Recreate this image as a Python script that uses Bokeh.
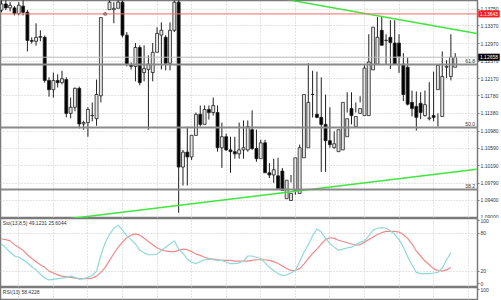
from bokeh.plotting import figure
from bokeh.layouts import column
from bokeh.models import (Range1d, FixedTicker, NumeralTickFormatter, Span, Label,
                          ColumnDataSource)
from bokeh.embed import file_html
from bokeh.resources import INLINE
from bokeh.core.properties import value

# ---------------- data ----------------
opens = [1.1373, 1.1387, 1.1378, 1.1378, 1.1365, 1.1382, 1.1368, 1.1304, 1.1302, 1.1311, 1.1311,
         1.1213, 1.1192, 1.1213, 1.1208, 1.1215, 1.1138, 1.1152, 1.1195, 1.1114, 1.1117,
         1.1133, 1.1126, 1.1178, 1.1362, 1.1374, 1.1374, 1.1377, 1.1391, 1.1316, 1.1249,
         1.1245, 1.1288, 1.1231, 1.1238, 1.1231, 1.1277, 1.1316, 1.1311, 1.1252, 1.1327,
         1.1391, 1.1016, 1.1050, 1.1039, 1.1088, 1.1136, 1.1113, 1.1147, 1.1140, 1.1140,
         1.1060, 1.1085, 1.1055, 1.1051, 1.1046, 1.1055, 1.1055, 1.1101, 1.1058, 1.1035,
         1.1071, 1.1003, 1.0998, 1.0996, 1.1007, 1.0944, 1.0940, 1.0963, 1.0956, 1.1037,
         1.1060, 1.1181, 1.1136, 1.1129, 1.1113, 1.1076, 1.1060, 1.1051, 1.1055, 1.1085,
         1.1149, 1.1108, 1.1138, 1.1133, 1.1133, 1.1237, 1.1250, 1.1327, 1.1304, 1.1311,
         1.1298, 1.1298, 1.1250, 1.1243, 1.1163, 1.1154, 1.1161, 1.1133, 1.1126, 1.1133,
         1.1192, 1.1131, 1.1243, 1.1222, 1.1243]
highs = [1.1416, 1.1407, 1.1391, 1.1382, 1.1391, 1.1402, 1.1373, 1.1311, 1.1343, 1.1327, 1.1315,
         1.1220, 1.1231, 1.1227, 1.1235, 1.1220, 1.1174, 1.1197, 1.1199, 1.1121, 1.1152,
         1.1163, 1.1215, 1.1356, 1.1368, 1.1398, 1.1391, 1.1402, 1.1398, 1.1323, 1.1254,
         1.1298, 1.1293, 1.1293, 1.1270, 1.1298, 1.1334, 1.1345, 1.1316, 1.1345, 1.1402,
         1.1402, 1.1055, 1.1108, 1.1085, 1.1140, 1.1156, 1.1156, 1.1156, 1.1174, 1.1156,
         1.1117, 1.1092, 1.1085, 1.1085, 1.1117, 1.1122, 1.1122, 1.1145, 1.1101, 1.1078,
         1.1078, 1.1025, 1.1035, 1.1037, 1.1014, 1.0971, 1.0998, 1.0996, 1.1067, 1.1101,
         1.1252, 1.1235, 1.1233, 1.1220, 1.1181, 1.1152, 1.1097, 1.1078, 1.1090, 1.1186,
         1.1186, 1.1163, 1.1177, 1.1190, 1.1318, 1.1295, 1.1357, 1.1357, 1.1318, 1.1350,
         1.1350, 1.1318, 1.1275, 1.1265, 1.1190, 1.1188, 1.1186, 1.1190, 1.1209, 1.1233,
         1.1138, 1.1279, 1.1259, 1.1318, 1.1275]
lows = [1.1368, 1.1373, 1.1370, 1.1361, 1.1361, 1.1361, 1.1279, 1.1297, 1.1292, 1.1302, 1.1208,
        1.1176, 1.1174, 1.1197, 1.1204, 1.1129, 1.1127, 1.1143, 1.1104, 1.1101, 1.1085,
        1.1120, 1.1110, 1.1163, 1.1366, 1.1389, 1.1343, 1.1384, 1.1311, 1.1245, 1.1238,
        1.1211, 1.1202, 1.1211, 1.1101, 1.1211, 1.1311, 1.1238, 1.1236, 1.1236, 1.1323,
        1.0912, 1.0974, 1.0974, 1.1032, 1.1097, 1.1108, 1.1136, 1.1124, 1.1133, 1.1051,
        1.1014, 1.1053, 1.1003, 1.1035, 1.1035, 1.1035, 1.1051, 1.1055, 1.1028, 1.1051,
        1.1007, 1.0991, 1.0980, 1.0974, 1.0968, 1.0956, 1.0981, 1.0953, 1.1041, 1.1060,
        1.1154, 1.1129, 1.1127, 1.1005, 1.1005, 1.1060, 1.1058, 1.1060, 1.1152, 1.1140,
        1.1113, 1.1140, 1.1163, 1.1250, 1.1231, 1.1293, 1.1304, 1.1293, 1.1250, 1.1239,
        1.1250, 1.1230, 1.1166, 1.1156, 1.1131, 1.1099, 1.1125, 1.1131, 1.1122, 1.1120,
        1.1108, 1.1209, 1.1218, 1.1213, 1.1259]
closes = [1.1387, 1.1378, 1.1384, 1.1365, 1.1384, 1.1368, 1.1304, 1.1302, 1.1311, 1.1313, 1.1213,
          1.1192, 1.1213, 1.1208, 1.1217, 1.1138, 1.1152, 1.1195, 1.1114, 1.1117, 1.1147,
          1.1133, 1.1181, 1.1356, 1.1366, 1.1391, 1.1377, 1.1391, 1.1316, 1.1249, 1.1245,
          1.1288, 1.1208, 1.1240, 1.1250, 1.1277, 1.1320, 1.1327, 1.1252, 1.1327, 1.1391,
          1.1016, 1.1050, 1.1039, 1.1088, 1.1136, 1.1113, 1.1147, 1.1140, 1.1156, 1.1060,
          1.1085, 1.1055, 1.1051, 1.1046, 1.1055, 1.1060, 1.1108, 1.1058, 1.1035, 1.1071,
          1.1003, 1.0998, 1.1010, 1.0967, 1.0963, 1.0986, 1.0956, 1.1037, 1.1060, 1.1181,
          1.1163, 1.1181, 1.1129, 1.1113, 1.1076, 1.1067, 1.1069, 1.1101, 1.1163, 1.1126,
          1.1133, 1.1131, 1.1149, 1.1241, 1.1255, 1.1334, 1.1311, 1.1293, 1.1304, 1.1299,
          1.1250, 1.1268, 1.1181, 1.1159, 1.1149, 1.1129, 1.1140, 1.1158, 1.1128, 1.1129,
          1.1247, 1.1222, 1.1245, 1.1266, 1.12658]

stoch_main = [63, 57, 50, 44, 42, 38, 33, 27, 22, 15, 9, 6, 7, 8, 9, 10, 12, 10, 7, 8, 10,
              13, 20, 45, 65, 78, 88, 93, 85, 76, 70, 63, 53, 49, 46, 46, 47, 53, 58, 63, 68,
              55, 48, 39, 34, 32, 35, 38, 39, 38, 37, 37, 34, 32, 32, 33, 36, 44, 44, 42, 40,
              33, 26, 21, 16, 13, 14, 17, 21, 35, 50, 62, 76, 87, 82, 72, 64, 58, 53, 55, 57,
              58, 62, 66, 68, 76, 85, 88, 89, 88, 84, 78, 70, 58, 43, 30, 18, 16, 16, 16, 17,
              18, 25, 38, 49.1231]
stoch_signal = [71, 70, 68, 62, 58, 53, 46, 40, 35, 30, 26, 20, 17, 14, 12, 11, 10, 9, 8, 8, 8,
                9, 12, 18, 26, 37, 48, 58, 66, 73, 77, 79, 77, 72, 67, 62, 57, 54, 52, 51, 51,
                53, 55, 54, 51, 47, 45, 42, 40, 39, 38, 37, 37, 37, 36, 36, 36, 36, 37, 38, 38,
                38, 37, 35, 32, 28, 24, 21, 21, 24, 31, 40, 48, 55, 63, 70, 73, 72, 69, 67, 65,
                63, 61, 62, 66, 70, 74, 78, 81, 83, 83, 83, 82, 78, 72, 63, 52, 44, 36, 30, 24,
                21, 20, 22, 25.6044]

price_ticks = [1.13750, 1.13370, 1.12970, 1.12570, 1.12170, 1.11780, 1.11380, 1.10980,
               1.10590, 1.10190, 1.09790, 1.09400, 1.09000]
stoch_ticks = [0, 20, 80, 100]
rsi_ticks = [100]

resistance_level = 1.13643
bid_price = 1.12658
fib_levels = [1.12493, 1.11060, 1.09650]
fib_names = ["61.8", "50.0", "38.2"]

upper_trend_x = [66, 110]
upper_trend_y = [1.1397, 1.1320]
lower_trend_x = [16, 110]
lower_trend_y = [1.0899, 1.1011]

tag_texts = ["1.13643", "1.12658"]
tag_levels = [resistance_level, bid_price]
tag_colors = ["#ff1a1a", "#000000"]

stoch_text = "Sto(13,8,5) 49.1231 25.6044"
rsi_text = "RSI(13) 58.4228"

# ---------------- layout ----------------
N = len(opens)
FONT = "Liberation Sans"
GRID = "#c8c8c8"
FRAME = "#7a7a7a"
PX = 4.33  # pixels per bar

xr = Range1d(-0.23, 110.16)
vgrid = list(range(4, 112, 8))


def make_fig(h, yr, ticks, fmt=None):
    p = figure(width=501, height=h, x_range=xr, y_range=yr, output_backend="svg",
               toolbar_location=None, y_axis_location="right",
               min_border_left=0, min_border_right=23, min_border_top=0, min_border_bottom=0,
               outline_line_color=FRAME, outline_line_width=1.5,
               background_fill_color="white", border_fill_color="white")
    p.xaxis.visible = False
    p.xaxis.ticker = FixedTicker(ticks=vgrid)
    p.xgrid.grid_line_color = GRID
    p.xgrid.grid_line_dash = "1 2"
    p.yaxis.ticker = FixedTicker(ticks=ticks)
    if fmt:
        p.yaxis.formatter = NumeralTickFormatter(format=fmt)
    p.yaxis.major_label_text_font_size = "5px"
    p.yaxis.major_label_text_font = FONT
    p.yaxis.major_label_text_color = "#333333"
    p.yaxis.major_tick_out = 2
    p.yaxis.major_tick_in = 0
    p.yaxis.minor_tick_line_color = None
    p.yaxis.major_label_standoff = 1
    p.yaxis.axis_line_color = FRAME
    p.yaxis.major_tick_line_color = FRAME
    p.ygrid.grid_line_color = GRID
    p.ygrid.grid_line_dash = "1 2"
    return p


# ---- main price panel ----
p = make_fig(218, Range1d(1.0899, 1.13948), price_ticks, "0.00000")

idx = list(range(N))
up = [c >= o for o, c in zip(opens, closes)]
src = ColumnDataSource(dict(
    x=idx, o=opens, h=highs, l=lows, c=closes,
    top=[max(o, c) + (0.00003 if abs(o - c) < 0.00003 else 0) for o, c in zip(opens, closes)],
    bot=[min(o, c) for o, c in zip(opens, closes)],
    fill=["#e6e6e6" if u else "#000000" for u in up],
))

p.segment(x0="x", y0="h", x1="x", y1="l", source=src, line_color="#202020", line_width=1)
p.vbar(x="x", top="top", bottom="bot", width=0.68, source=src,
       fill_color="fill", line_color="#202020", line_width=0.8)

for lvl, name in zip(fib_levels, fib_names):
    p.add_layout(Span(location=lvl, dimension="width", line_color="#8a8a8a", line_width=2))
    p.add_layout(Label(x=109.6, y=lvl, text=name, text_font_size="5px", text_font=FONT,
                       text_color="#333333", text_align="right", text_baseline="bottom",
                       y_offset=1))

p.add_layout(Span(location=bid_price, dimension="width", line_color="#bbbbbb", line_width=1))
p.add_layout(Span(location=resistance_level, dimension="width", line_color="#ff6b6b",
                  line_width=1))

p.line(upper_trend_x, upper_trend_y, line_color="#3ee63e", line_width=1.5)
p.line(lower_trend_x, lower_trend_y, line_color="#3ee63e", line_width=1.5)

# price tags on the axis strip (drawn above the frame clip)
tag_x = xr.end + 11.5 / PX
tag_src = ColumnDataSource(dict(x=[tag_x] * 2, y=tag_levels, t=tag_texts, c=tag_colors))
p.rect(x="x", y="y", width=21.5 / PX, height=0.0016, source=tag_src, fill_color="c",
       line_color=None, level="overlay")
p.text(x="x", y="y", text="t", source=tag_src, text_color="white", text_font_size="5px",
       text_font=value(FONT), text_align="center", text_baseline="middle", level="overlay")

# ---- stochastic panel ----
s = make_fig(69, Range1d(-6, 103.5), stoch_ticks)
s.ygrid.ticker = FixedTicker(ticks=[20, 80])
s.line(idx, stoch_signal, line_color="#f08a8a", line_width=1.2)
s.line(idx, stoch_main, line_color="#8fd9d9", line_width=1.2)
s.add_layout(Label(x=0.3, y=101, text=stoch_text, text_font_size="5px", text_font=FONT,
                   text_color="#333333", text_baseline="top"))

# ---- RSI panel (top edge only visible) ----
r = make_fig(13, Range1d(84, 103), rsi_ticks)
r.ygrid.grid_line_color = None
r.add_layout(Label(x=0.3, y=101, text=rsi_text, text_font_size="5px", text_font=FONT,
                   text_color="#333333", text_baseline="top"))

layout = column(p, s, r, spacing=0)
open("out.html", "w").write(file_html(layout, INLINE))
